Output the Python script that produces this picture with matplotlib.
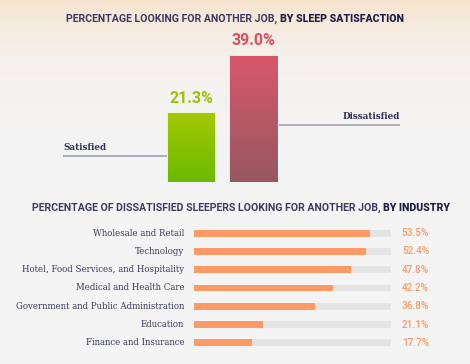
import numpy as np
import matplotlib.pyplot as plt
from matplotlib.colors import LinearSegmentedColormap

# top chart data
sleep_groups = ["Satisfied", "Dissatisfied"]
sleep_values = [21.3, 39.0]

# bottom chart data
industries = ["Wholesale and Retail", "Technology",
              "Hotel, Food Services, and Hospitality",
              "Medical and Health Care",
              "Government and Public Administration",
              "Education", "Finance and Insurance"]
industry_values = [53.5, 52.4, 47.8, 42.2, 36.8, 21.1, 17.7]

W, H = 470, 364
bg = "#f4f4f4"
navy = "#2e3058"
orange = "#fd9a65"
track = "#e4e4e4"


def box(x0, y0, x1, y1):
    # pixel box (top-left origin) -> figure fraction rect
    return [x0 / W, 1 - y1 / H, (x1 - x0) / W, (y1 - y0) / H]


def gradient_fill(ax, patch, c_top, c_bot):
    cmap = LinearSegmentedColormap.from_list("g", [c_bot, c_top])
    x, y = patch.get_x(), patch.get_y()
    w, h = patch.get_width(), patch.get_height()
    grad = np.linspace(0, 1, 64).reshape(-1, 1)
    im = ax.imshow(grad, cmap=cmap, extent=[x, x + w, y, y + h],
                   origin="lower", aspect="auto", zorder=2)
    im.set_clip_path(patch)


def two_part_title(x, y, light, heavy):
    t = fig.text(x / W, 1 - y / H, light, family="Roboto", weight="bold",
                 size=7.6, color="#3a3c62", va="center", ha="left")
    plt.annotate(heavy, xy=(1, 0), xycoords=t, va="bottom", ha="left",
                 family="Roboto", weight="black", size=7.6,
                 color="#1f2148", annotation_clip=False)


fig = plt.figure(figsize=(W / 100, H / 100), dpi=100, facecolor=bg)

# warm strip along the top edge
bgax = fig.add_axes([0, 0, 1, 1], zorder=-1)
bgax.axis("off")
warm = LinearSegmentedColormap.from_list("w", [bg, "#f7e4cf"])
bgax.imshow(np.linspace(0, 1, 100).reshape(-1, 1) ** 8, cmap=warm,
            extent=[0, 1, 0, 1], aspect="auto", origin="lower")
bgax.set_xlim(0, 1)
bgax.set_ylim(0, 1)

two_part_title(66, 19, "PERCENTAGE LOOKING FOR ANOTHER JOB, ",
               "BY SLEEP SATISFACTION")
two_part_title(32, 208,
               "PERCENTAGE OF DISSATISFIED SLEEPERS LOOKING FOR ANOTHER JOB, ",
               "BY INDUSTRY")

# ---- top: vertical bars ----
ax1 = fig.add_axes(box(63, 30, 400, 182))
ax1.set_xlim(-2.048, 3.344)
ax1.set_ylim(0, 46.5)
ax1.axis("off")
bw = 0.77
bars = ax1.bar([0, 1], sleep_values, width=bw, color="none",
               edgecolor="#ffffff", linewidth=0.6, zorder=3)
gradient_fill(ax1, bars[0], "#a4c900", "#6aba00")
gradient_fill(ax1, bars[1], "#d9576a", "#975760")
val_cols = ["#99c400", "#d9505f"]
for i, v in enumerate(sleep_values):
    ax1.annotate(f"{v:.1f}%", xy=(i, v), xytext=(0, 4.5),
                 textcoords="offset points", ha="center", va="bottom",
                 family="Roboto", weight="bold", size=11.5,
                 color=val_cols[i])

lx0, lx1 = ax1.get_xlim()
line_y = [8.1, 17.5]
ax1.plot([lx0, -bw / 2], [line_y[0]] * 2, color="#a2a2b6", lw=1.2,
         solid_capstyle="butt")
ax1.plot([1 + bw / 2, lx1], [line_y[1]] * 2, color="#a2a2b6", lw=1.2,
         solid_capstyle="butt")
ax1.annotate(sleep_groups[0], xy=(lx0, line_y[0]), xytext=(0, 2.5),
             textcoords="offset points", ha="left", va="bottom",
             family="DejaVu Serif", weight="bold", size=6.3, color=navy)
ax1.annotate(sleep_groups[1], xy=(lx1, line_y[1]), xytext=(0, 2.5),
             textcoords="offset points", ha="right", va="bottom",
             family="DejaVu Serif", weight="bold", size=6.3, color=navy)

# ---- bottom: horizontal bars ----
ax2 = fig.add_axes(box(194, 224, 391, 352))
ax2.set_xlim(0, 60)
ax2.set_ylim(len(industries) - 0.5, -0.5)
ax2.axis("off")
ypos = np.arange(len(industries))
ax2.barh(ypos, [60] * len(industries), height=0.38, color=track)
ax2.barh(ypos, industry_values, height=0.38, color=orange)
for i, (name, v) in enumerate(zip(industries, industry_values)):
    ax2.text(-3, i, name, ha="right", va="center", family="DejaVu Serif",
             size=6.25, color="#3a3c5e", clip_on=False)
    ax2.text(71.6, i, f"{v}%", ha="right", va="center", family="Roboto",
             weight="medium", size=7.2, color=orange, clip_on=False)

fig.savefig("out.png", dpi=100, facecolor=bg)
